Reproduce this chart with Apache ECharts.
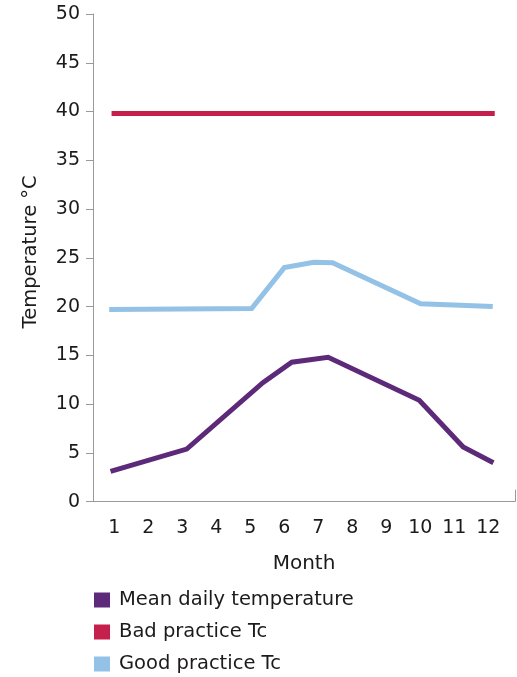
<!DOCTYPE html>
<html>
<head>
<meta charset="utf-8">
<script src="https://cdn.jsdelivr.net/npm/echarts@6/dist/echarts.min.js"></script>
<style>html,body{margin:0;padding:0;background:#fff}#c{width:517px;height:677px}</style>
</head>
<body>
<div id="c"></div>
<script>
var monthTicks = [1, 2, 3, 4, 5, 6, 7, 8, 9, 10, 11, 12];
var meanX = [0.89, 3.13, 5.37, 6.22, 7.29, 9.97, 11.26, 12.15];
var meanY = [3.1, 5.4, 12.2, 14.3, 14.8, 10.4, 5.6, 4.0];
var badX = [0.92, 12.19];
var badY = [39.8, 39.8];
var goodX = [0.85, 5.04, 6.0, 6.87, 7.42, 10.01, 12.13];
var goodY = [19.7, 19.8, 24.0, 24.55, 24.5, 20.3, 20.0];
var seriesNames = ['Mean daily temperature', 'Bad practice Tc', 'Good practice Tc'];

function zip(xs, ys) { return xs.map(function (x, i) { return [x, ys[i]]; }); }

var FONT = '"DejaVu Sans", sans-serif';
var TXT = '#1c1a1b';
var AX = '#9a9a9a';
var xMin = 0.374, xMax = 12.785;

var chart = echarts.init(document.getElementById('c'));
chart.setOption({
  animation: false,
  textStyle: { fontFamily: FONT },
  grid: { left: 93, right: 2, top: 14, bottom: 175.3, containLabel: false },
  legend: {
    orient: 'vertical', left: 94, top: 590, padding: 0,
    icon: 'rect', itemWidth: 16, itemHeight: 15, itemGap: 12,
    data: seriesNames,
    textStyle: { fontFamily: FONT, fontSize: 19.5, color: TXT, padding: [0, 0, 0, 4] },
    selectedMode: false
  },
  xAxis: {
    type: 'value', min: xMin, max: xMax,
    name: 'Month', nameLocation: 'middle', nameGap: 52,
    nameTextStyle: { fontFamily: FONT, fontSize: 20, color: TXT },
    axisLine: { show: true, lineStyle: { color: AX, width: 1 } },
    axisTick: { show: true, inside: true, length: 12, customValues: [xMax], lineStyle: { color: AX } },
    axisLabel: { customValues: monthTicks, fontFamily: FONT, fontSize: 19, color: TXT, margin: 17 },
    splitLine: { show: false }
  },
  yAxis: {
    type: 'value', min: 0, max: 50, interval: 5,
    name: 'Temperature °C', nameLocation: 'middle', nameGap: 52,
    nameTextStyle: { fontFamily: FONT, fontSize: 19.5, color: TXT, padding: [0, 0, 0, 12] },
    axisLine: { show: true, lineStyle: { color: AX, width: 1 } },
    axisTick: { show: true, length: 7, lineStyle: { color: AX } },
    axisLabel: { fontFamily: FONT, fontSize: 19, color: TXT, margin: 13 },
    splitLine: { show: false }
  },
  series: [
    { name: seriesNames[0], type: 'line', data: zip(meanX, meanY), symbol: 'none', color: '#5c2a78',
      lineStyle: { width: 5, color: '#5c2a78', cap: 'butt', join: 'miter' } },
    { name: seriesNames[1], type: 'line', data: zip(badX, badY), symbol: 'none', color: '#c51f4b',
      lineStyle: { width: 5, color: '#c51f4b', cap: 'butt' } },
    { name: seriesNames[2], type: 'line', data: zip(goodX, goodY), symbol: 'none', color: '#93c2e6',
      lineStyle: { width: 5, color: '#93c2e6', cap: 'butt', join: 'miter' } }
  ]
});
</script>
</body>
</html>
